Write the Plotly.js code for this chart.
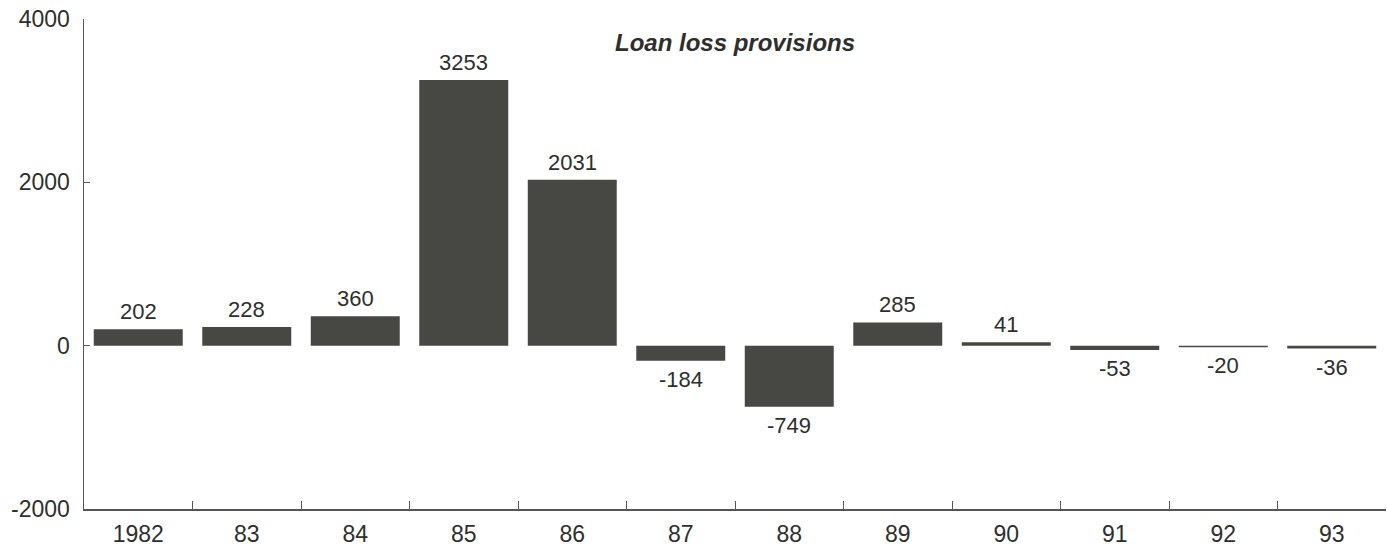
<!DOCTYPE html>
<html>
<head>
<meta charset="utf-8">
<script src="https://cdn.plot.ly/plotly-3.0.1.min.js"></script>
<style>html,body{margin:0;padding:0;background:#fff;}#chart{width:1387px;height:550px;}</style>
</head>
<body>
<div id="chart"></div>
<script>
const categories = ["1982", "83", "84", "85", "86", "87", "88", "89", "90", "91", "92", "93"];
const values = [202, 228, 360, 3253, 2031, -184, -749, 285, 41, -53, -20, -36];
const yTicks = [-2000, 0, 2000, 4000];
const titleText = "Loan loss provisions";

const barColor = "#474843";
const textColor = "#2e2f2c";
const fontFam = "Liberation Sans, Arial, Helvetica, sans-serif";

const trace = {
  type: "bar",
  x: categories,
  y: values,
  marker: {color: barColor, line: {width: 0}},
  hoverinfo: "none"
};

const annotations = values.map((v, i) => ({
  x: i,
  y: v,
  xref: "x",
  yref: "y",
  text: String(v),
  showarrow: false,
  yanchor: v >= 0 ? "bottom" : "top",
  yshift: v >= 0 ? 3 : -4,
  font: {family: fontFam, size: 22, color: textColor}
}));
annotations.push({
  x: 0.5, xref: "paper",
  y: 4000, yref: "y",
  yshift: -8,
  yanchor: "top",
  text: "<b><i>" + titleText + "</i></b>",
  showarrow: false,
  font: {family: fontFam, size: 24, color: textColor}
});

const layout = {
  width: 1387,
  height: 550,
  margin: {l: 84, r: 1, t: 19, b: 41},
  paper_bgcolor: "#fff",
  plot_bgcolor: "#fff",
  showlegend: false,
  bargap: 0.18,
  font: {family: fontFam, size: 22, color: textColor},
  xaxis: {
    type: "category",
    range: [-0.5, 11.5],
    showline: true,
    linecolor: "#555",
    linewidth: 1.5,
    ticks: "inside",
    tickson: "boundaries",
    ticklen: 8,
    tickcolor: "#555",
    showgrid: false,
    zeroline: false,
    ticklabelstandoff: 4,
    tickfont: {family: fontFam, size: 23, color: textColor}
  },
  yaxis: {
    range: [-2000, 4000],
    tickvals: yTicks,
    ticktext: yTicks.map(String),
    showline: true,
    linecolor: "#555",
    linewidth: 1.5,
    ticks: "inside",
    ticklen: 6,
    tickcolor: "#555",
    showgrid: false,
    zeroline: false,
    ticklabelstandoff: 8,
    tickfont: {family: fontFam, size: 23, color: textColor}
  },
  annotations: annotations
};

Plotly.newPlot("chart", [trace], layout, {staticPlot: true, displayModeBar: false});
</script>
</body>
</html>
